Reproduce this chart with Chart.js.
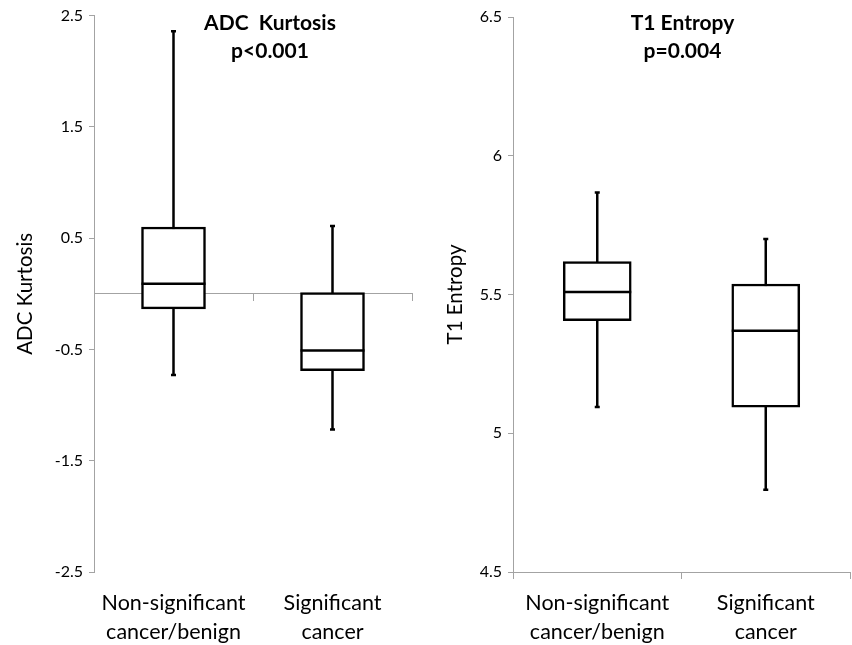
<!DOCTYPE html>
<html lang="en">
<head>
<meta charset="UTF-8">
<title>ADC Kurtosis / T1 Entropy</title>
<script src="https://cdn.jsdelivr.net/npm/chart.js"></script>
<style>
  body { margin: 0; background: #fff; }
  #wrap { display: flex; width: 852px; height: 645px; }
  canvas { display: block; }
</style>
</head>
<body>
<div id="wrap">
  <canvas id="adcChart" width="426" height="645"></canvas>
  <canvas id="t1Chart" width="426" height="645"></canvas>
</div>
<script>
    const categories = [["Non-significant", "cancer/benign"], ["Significant", "cancer"]];

    // ADC kurtosis: whisker ends, quartiles, median
    const adcLow = [-0.73, -1.22];
    const adcQ1 = [-0.135, -0.69];
    const adcMedian = [0.09, -0.51];
    const adcQ3 = [0.6, 0.01];
    const adcHigh = [2.36, 0.61];
    const adcTicks = [-2.5, -1.5, -0.5, 0.5, 1.5, 2.5];

    // T1 entropy
    const t1Low = [5.095, 4.796];
    const t1Q1 = [5.406, 5.094];
    const t1Median = [5.509, 5.369];
    const t1Q3 = [5.619, 5.538];
    const t1High = [5.868, 5.70];
    const t1Ticks = [4.5, 5, 5.5, 6, 6.5];

    const axisGray = "#a3a3a3";
    Chart.defaults.font.family = "Lato, 'Open Sans', sans-serif";
    Chart.defaults.color = "#000";

    // whiskers behind the box, median on top
    const boxPlugin = {
        id: "boxparts",
        beforeDatasetsDraw(chart, args, opts) {
            const { ctx, scales: { x, y } } = chart;
            ctx.save();
            ctx.strokeStyle = "#000";
            ctx.lineWidth = 2.5;
            opts.low.forEach((lo, i) => {
                const cx = x.getPixelForValue(i);
                const yLo = y.getPixelForValue(lo);
                const yHi = y.getPixelForValue(opts.high[i]);
                ctx.beginPath();
                ctx.moveTo(cx, yLo);
                ctx.lineTo(cx, yHi);
                ctx.moveTo(cx - 2.5, yLo);
                ctx.lineTo(cx + 2.5, yLo);
                ctx.moveTo(cx - 2.5, yHi);
                ctx.lineTo(cx + 2.5, yHi);
                ctx.stroke();
            });
            ctx.restore();
        },
        afterDatasetsDraw(chart, args, opts) {
            const { ctx, scales: { y } } = chart;
            const meta = chart.getDatasetMeta(0);
            ctx.save();
            ctx.strokeStyle = "#000";
            ctx.lineWidth = 2.5;
            opts.median.forEach((m, i) => {
                const bar = meta.data[i];
                const ym = y.getPixelForValue(m);
                ctx.beginPath();
                ctx.moveTo(bar.x - bar.width / 2, ym);
                ctx.lineTo(bar.x + bar.width / 2, ym);
                ctx.stroke();
            });
            ctx.restore();
        }
    };

    // bold heading lines over the plot
    const headingPlugin = {
        id: "heading",
        afterDraw(chart, args, opts) {
            const { ctx, chartArea } = chart;
            const cx = (chartArea.left + chartArea.right) / 2 + opts.dx;
            ctx.save();
            ctx.fillStyle = "#000";
            ctx.font = "bold 21px Lato, 'Open Sans', sans-serif";
            ctx.textAlign = "center";
            ctx.textBaseline = "alphabetic";
            ctx.fillText(opts.lines[0], cx, 30);
            ctx.fillText(opts.lines[1], cx, 58);
            ctx.restore();
        }
    };

    function yAxis(ticks, title, width, titlePad) {
        return {
            min: ticks[0],
            max: ticks[ticks.length - 1],
            afterBuildTicks: s => { s.ticks = ticks.map(v => ({ value: v })); },
            afterFit: s => { s.width = width; },
            border: { color: axisGray },
            grid: { drawOnChartArea: false, tickLength: 5, color: axisGray },
            ticks: { font: { size: 16 }, padding: 6, callback: v => String(v) },
            title: { display: true, text: title, font: { size: 20.5 }, padding: { top: titlePad, bottom: 0 } }
        };
    }

    function boxData(q1, q3) {
        return q1.map((v, i) => [v, q3[i]]);
    }

    function makeChart(id, cfg) {
        return new Chart(document.getElementById(id), {
            type: "bar",
            data: {
                labels: categories,
                datasets: [{
                    data: boxData(cfg.q1, cfg.q3),
                    backgroundColor: "#fff",
                    borderColor: "#000",
                    borderWidth: 2.5,
                    borderSkipped: false,
                    barThickness: cfg.barWidth
                }]
            },
            options: {
                responsive: false,
                animation: false,
                events: [],
                layout: { padding: { top: cfg.top, right: cfg.right, bottom: 0, left: 0 } },
                plugins: {
                    legend: { display: false },
                    tooltip: { enabled: false },
                    boxparts: { low: cfg.low, high: cfg.high, median: cfg.median },
                    heading: { lines: cfg.heading, dx: cfg.headDx }
                },
                scales: cfg.scales
            },
            plugins: [boxPlugin, headingPlugin]
        });
    }

    makeChart("adcChart", {
        q1: adcQ1, q3: adcQ3, low: adcLow, high: adcHigh, median: adcMedian,
        barWidth: 64, top: 14, right: 14,
        heading: ["ADC  Kurtosis", "p<0.001"], headDx: 17,
        scales: {
            x: {
                position: "bottom",
                afterFit: s => { s.height = 73; },
                border: { display: false },
                grid: { display: false, drawTicks: false },
                ticks: { font: { size: 21.5, lineHeight: 1.37 }, padding: 16, maxRotation: 0, autoSkip: false }
            },
            xZero: {
                axis: "x",
                type: "category",
                position: { y: 0 },
                offset: true,
                border: { color: axisGray },
                grid: { offset: true, drawOnChartArea: false, tickLength: 7, color: axisGray },
                ticks: { display: false }
            },
            y: yAxis(adcTicks, "ADC Kurtosis", 94, 12.7)
        }
    });

    makeChart("t1Chart", {
        q1: t1Q1, q3: t1Q3, low: t1Low, high: t1High, median: t1Median,
        barWidth: 68, top: 17, right: 2,
        heading: ["T1 Entropy", "p=0.004"], headDx: 1,
        scales: {
            x: {
                position: "bottom",
                afterFit: s => { s.height = 73; },
                border: { color: axisGray },
                grid: { offset: true, drawOnChartArea: false, tickLength: 7, color: axisGray },
                ticks: { font: { size: 21.5, lineHeight: 1.37 }, padding: 9, maxRotation: 0, autoSkip: false }
            },
            y: yAxis(t1Ticks, "T1 Entropy", 87, 16.7)
        }
    });
</script>
</body>
</html>
